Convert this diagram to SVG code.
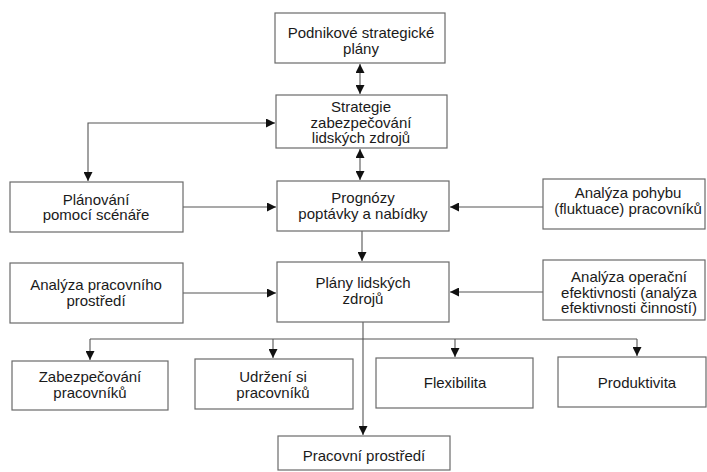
<svg xmlns="http://www.w3.org/2000/svg" width="707" height="472" viewBox="0 0 707 472">
<style>
.box{fill:#fff;stroke:#6a6a6a;stroke-width:1.2}
.t{font-family:"Liberation Sans",Arial,sans-serif;font-size:15px;fill:#1a1a1a;text-anchor:middle}
.c{fill:none;stroke:#555;stroke-width:1.1}
</style>
<defs>
<marker id="ah" viewBox="0 0 10 10" refX="10" refY="5" markerWidth="9" markerHeight="9" markerUnits="userSpaceOnUse" orient="auto-start-reverse">
<path d="M0,0 L10,5 L0,10 z" fill="#111"/>
</marker>
</defs>
<rect width="707" height="472" fill="#fff"/>
<g id="connectors">
<path class="c" d="M360,64 V94" marker-start="url(#ah)" marker-end="url(#ah)"/>
<path class="c" d="M360,149 V180" marker-start="url(#ah)" marker-end="url(#ah)"/>
<path class="c" d="M275,123 H88 V181" marker-start="url(#ah)" marker-end="url(#ah)"/>
<path class="c" d="M183,207 H276" marker-end="url(#ah)"/>
<path class="c" d="M543,207 H450" marker-end="url(#ah)"/>
<path class="c" d="M362,231 V261" marker-end="url(#ah)"/>
<path class="c" d="M183,293 H276" marker-end="url(#ah)"/>
<path class="c" d="M543,292 H450" marker-end="url(#ah)"/>
<path class="c" d="M363,322 V435" marker-end="url(#ah)"/>
<path class="c" d="M90,339 H637"/>
<path class="c" d="M90,339 V360" marker-end="url(#ah)"/>
<path class="c" d="M273,339 V358" marker-end="url(#ah)"/>
<path class="c" d="M455,339 V357" marker-end="url(#ah)"/>
<path class="c" d="M637,339 V356" marker-end="url(#ah)"/>
</g>
<g id="n-podnikove">
<rect class="box" x="275" y="13" width="170" height="50"/>
<text class="t" x="361" y="38">Podnikové strategické</text>
<text class="t" x="361" y="53.5">plány</text>
</g>
<g id="n-strategie">
<rect class="box" x="276" y="95" width="171" height="53"/>
<text class="t" x="361" y="112">Strategie</text>
<text class="t" x="361" y="127.5">zabezpečování</text>
<text class="t" x="361" y="143">lidských zdrojů</text>
</g>
<g id="n-planovani">
<rect class="box" x="10" y="182" width="173" height="50"/>
<text class="t" x="96" y="204.5">Plánování</text>
<text class="t" x="96" y="220">pomocí scénáře</text>
</g>
<g id="n-prognozy">
<rect class="box" x="277" y="181" width="172" height="50"/>
<text class="t" x="363" y="203">Prognózy</text>
<text class="t" x="363" y="218.5">poptávky a nabídky</text>
</g>
<g id="n-pohyb">
<rect class="box" x="543" y="179" width="162" height="50"/>
<text class="t" x="628" y="198">Analýza pohybu</text>
<text class="t" x="628" y="213.5">(fluktuace) pracovníků</text>
</g>
<g id="n-analyza-prostredi">
<rect class="box" x="10" y="263" width="173" height="60"/>
<text class="t" x="96" y="290">Analýza pracovního</text>
<text class="t" x="96" y="306">prostředí</text>
</g>
<g id="n-plany">
<rect class="box" x="277" y="262" width="172" height="60"/>
<text class="t" x="363" y="288">Plány lidských</text>
<text class="t" x="363" y="303.5">zdrojů</text>
</g>
<g id="n-operacni">
<rect class="box" x="543" y="260" width="162" height="60"/>
<text class="t" x="629" y="282">Analýza operační</text>
<text class="t" x="629" y="297.5">efektivnosti (analýza</text>
<text class="t" x="629" y="313">efektivnosti činností)</text>
</g>
<g id="n-zabezpecovani">
<rect class="box" x="12" y="361" width="156" height="49"/>
<text class="t" x="90" y="382">Zabezpečování</text>
<text class="t" x="90" y="397.5">pracovníků</text>
</g>
<g id="n-udrzeni">
<rect class="box" x="195" y="359" width="158" height="50"/>
<text class="t" x="273" y="382">Udržení si</text>
<text class="t" x="273" y="397.5">pracovníků</text>
</g>
<g id="n-flexibilita">
<rect class="box" x="376" y="358" width="157" height="50"/>
<text class="t" x="455" y="388">Flexibilita</text>
</g>
<g id="n-produktivita">
<rect class="box" x="558" y="357" width="148" height="50"/>
<text class="t" x="637" y="388">Produktivita</text>
</g>
<g id="n-pracovni-prostredi">
<rect class="box" x="278" y="436" width="172" height="34"/>
<text class="t" x="364" y="461">Pracovní prostředí</text>
</g>
</svg>
